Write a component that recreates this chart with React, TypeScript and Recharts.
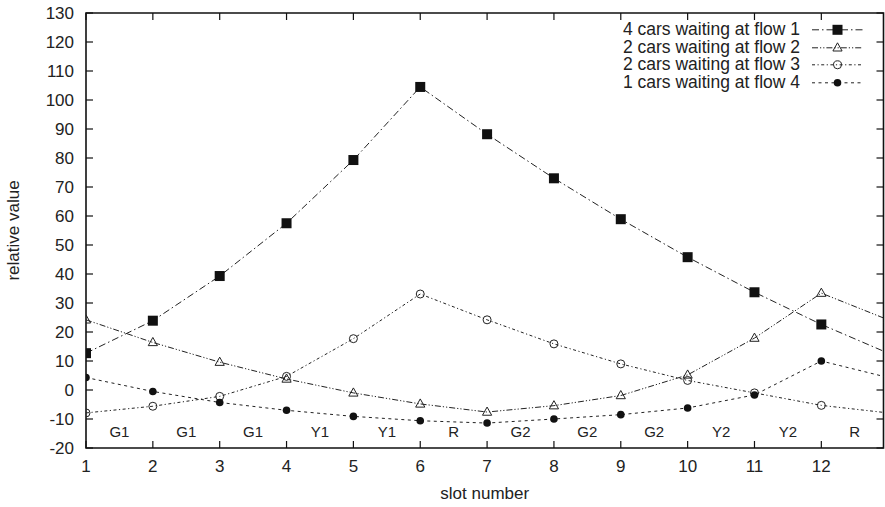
import React from "react";
import {
  LineChart,
  Line,
  XAxis,
  YAxis,
  ReferenceArea,
  ReferenceDot,
} from "recharts";

const slots = [1, 2, 3, 4, 5, 6, 7, 8, 9, 10, 11, 12, 13];
const flow1 = [12.7, 23.9, 39.3, 57.5, 79.3, 104.5, 88.2, 73.0, 58.9, 45.8, 33.7, 22.6, 12.7];
const flow2 = [24.2, 16.4, 9.6, 3.8, -1.0, -4.8, -7.6, -5.4, -1.9, 5.2, 17.9, 33.4, 24.2];
const flow3 = [-7.9, -5.6, -2.2, 4.7, 17.7, 33.1, 24.2, 15.9, 9.0, 3.3, -1.0, -5.3, -7.9];
const flow4 = [4.3, -0.5, -4.3, -7.0, -9.1, -10.6, -11.4, -10.0, -8.5, -6.2, -1.7, 10.0, 4.3];

const phases = ["G1", "G1", "G1", "Y1", "Y1", "R", "G2", "G2", "G2", "Y2", "Y2", "R"];
const xTicks = [1, 2, 3, 4, 5, 6, 7, 8, 9, 10, 11, 12];
const yTicks = [-20, -10, 0, 10, 20, 30, 40, 50, 60, 70, 80, 90, 100, 110, 120, 130];

const seriesNames = [
  "4 cars waiting at flow 1",
  "2 cars waiting at flow 2",
  "2 cars waiting at flow 3",
  "1 cars waiting at flow 4",
];

const rows = slots.map((s, i) => ({
  slot: s,
  f1: flow1[i],
  f2: flow2[i],
  f3: flow3[i],
  f4: flow4[i],
}));

const W = 885;
const H = 507;
const TOP = 13;
const LEFT = 86;
const RIGHT = 1.5;
const XH = 59;
const PT = TOP;
const PB = H - XH;
const PL = LEFT;
const PR = W - RIGHT;
const X_MAX = 12.93;
const FONT = "'Liberation Sans', Arial, Helvetica, sans-serif";
const INK = "#222";

// marker shapes, gnuplot style
const square = (cx: number, cy: number, k?: any) => (
  <rect key={k} x={cx - 5} y={cy - 5} width={10} height={10} fill="#111" />
);
const triangle = (cx: number, cy: number, k?: any) => (
  <polygon
    key={k}
    points={`${cx},${cy - 5} ${cx - 4.6},${cy + 3.2} ${cx + 4.6},${cy + 3.2}`}
    fill="none"
    stroke={INK}
    strokeWidth={1}
  />
);
const ring = (cx: number, cy: number, k?: any) => (
  <circle key={k} cx={cx} cy={cy} r={4} fill="none" stroke={INK} strokeWidth={1} />
);
const disc = (cx: number, cy: number, k?: any) => (
  <circle key={k} cx={cx} cy={cy} r={3.8} fill="#111" />
);

const series = [
  { key: "f1", dash: "7 3 1.5 3", marker: square },
  { key: "f2", dash: "6 2 1.2 2 1.2 2", marker: triangle },
  { key: "f3", dash: "3 2.5 1.2 2.5", marker: ring },
  { key: "f4", dash: "3 3.5", marker: disc },
];

const XTick = (props: any) => {
  const { x, y, payload } = props;
  return (
    <g>
      <line x1={x} x2={x} y1={PB} y2={PB - 7} stroke="#111" strokeWidth={1.2} />
      <line x1={x} x2={x} y1={PT} y2={PT + 7} stroke="#111" strokeWidth={1.2} />
      <text x={x} y={y} dy="0.71em" textAnchor="middle" fontSize={17} fill={INK} fontFamily={FONT}>
        {payload.value}
      </text>
    </g>
  );
};

const YTick = (props: any) => {
  const { x, y, payload } = props;
  return (
    <g>
      <line x1={PL} x2={PL + 7} y1={y} y2={y} stroke="#111" strokeWidth={1.2} />
      <line x1={PR - 7} x2={PR} y1={y} y2={y} stroke="#111" strokeWidth={1.2} />
      <text x={x} y={y} dy="0.355em" textAnchor="end" fontSize={17} fill={INK} fontFamily={FONT}>
        {payload.value}
      </text>
    </g>
  );
};

const App = () => {
  return (
    <div style={{ position: "absolute", left: 0, top: 0, width: W, height: H, background: "#fff", fontFamily: FONT }}>
      <LineChart width={W} height={H} data={rows} margin={{ top: TOP, right: RIGHT, bottom: 0, left: 0 }}>
        <XAxis
          dataKey="slot"
          type="number"
          domain={[1, X_MAX]}
          allowDataOverflow
          ticks={xTicks}
          interval={0}
          height={XH}
          tickSize={0}
          tickMargin={12}
          axisLine={false}
          tick={<XTick />}
          label={{
            content: (p: any) => {
              const vb = p.viewBox;
              return (
                <text x={vb.x + vb.width / 2} y={PB + 45} textAnchor="middle" dominantBaseline="central" fontSize={17} fill={INK} fontFamily={FONT}>
                  slot number
                </text>
              );
            },
          }}
        />
        <YAxis
          type="number"
          domain={[-20, 130]}
          allowDataOverflow
          ticks={yTicks}
          interval={0}
          width={LEFT}
          tickSize={0}
          tickMargin={12}
          axisLine={false}
          tick={<YTick />}
          label={{
            content: () => {
              const cx = 13;
              const cy = (PT + PB) / 2;
              return (
                <text x={cx} y={cy} transform={`rotate(-90 ${cx} ${cy})`} textAnchor="middle" dominantBaseline="central" fontSize={17} fill={INK} fontFamily={FONT}>
                  relative value
                </text>
              );
            },
          }}
        />
        {series.map((s) => (
          <Line
            key={s.key}
            dataKey={s.key}
            type="linear"
            stroke={INK}
            strokeWidth={1}
            strokeDasharray={s.dash}
            isAnimationActive={false}
            activeDot={false}
            dot={(p: any) => s.marker(p.cx, p.cy, `${s.key}-${p.index}`)}
          />
        ))}
        {phases.map((ph, i) => (
          <ReferenceDot
            key={`ph-${i}`}
            x={xTicks[i] + 0.5}
            y={-14.3}
            r={1}
            fill="none"
            stroke="none"
            label={{ value: ph, position: "center", fontSize: 15, fill: INK, fontFamily: FONT }}
          />
        ))}
        <ReferenceArea x1={1} x2={X_MAX} y1={-20} y2={130} fill="none" stroke="#111" strokeWidth={1.6} />
      </LineChart>
      <div style={{ position: "absolute", top: 21, right: 22 }}>
        {series.map((s, i) => (
          <div key={s.key} style={{ display: "flex", alignItems: "center", justifyContent: "flex-end", height: 17.6 }}>
            <span style={{ fontSize: 17.5, lineHeight: "17.6px", color: INK, whiteSpace: "nowrap" }}>{seriesNames[i]}</span>
            <svg width={51} height={17.6} style={{ marginLeft: 12, display: "block" }}>
              <line x1={0} x2={51} y1={8.8} y2={8.8} stroke={INK} strokeWidth={1} strokeDasharray={s.dash} />
              {s.marker(25.5, 8.8)}
            </svg>
          </div>
        ))}
      </div>
    </div>
  );
};

export default App;
